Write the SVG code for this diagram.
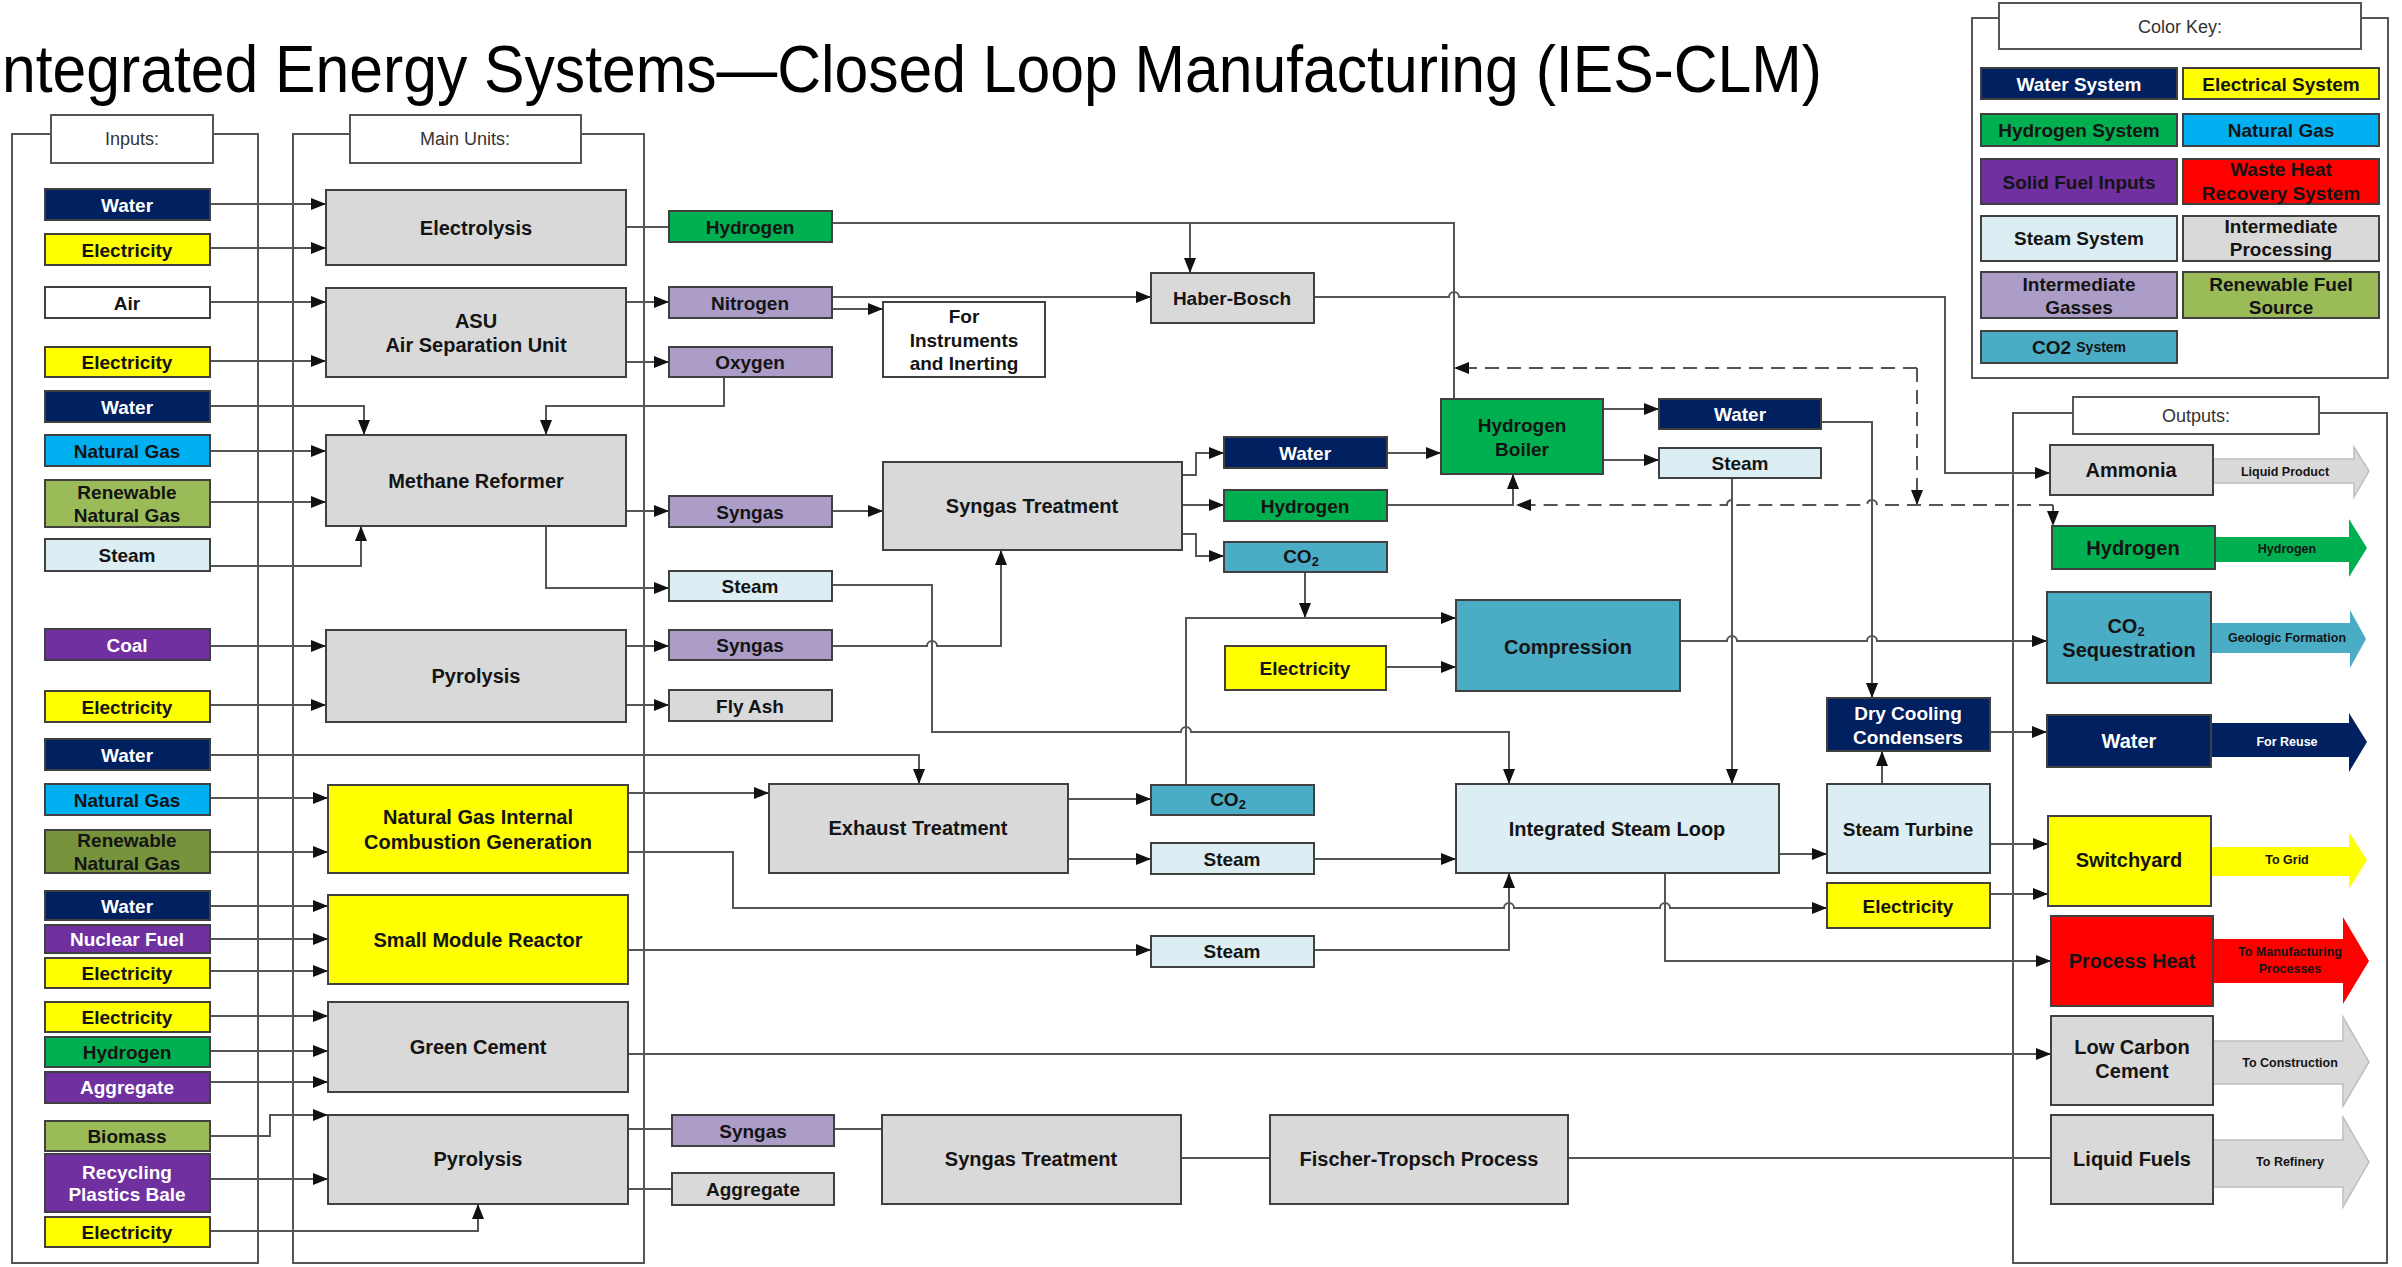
<svg xmlns="http://www.w3.org/2000/svg" width="2402" height="1267" viewBox="0 0 2402 1267">
<style>
.bx{stroke:#404040;stroke-width:2}
.t{font-family:"Liberation Sans",Arial,sans-serif;font-weight:bold;font-size:19px;text-anchor:middle;dominant-baseline:central;fill:#141414}
.tm{font-size:20px}
.to{font-size:20px}
.ts{font-size:12.5px}
.w{fill:#fff}
.hd{font-family:"Liberation Sans",Arial,sans-serif;font-size:18px;text-anchor:middle;dominant-baseline:central;fill:#333}
.ln{fill:none;stroke:#555;stroke-width:2}
.ds{stroke-dasharray:14 8}
.pn{fill:none;stroke:#555;stroke-width:2}
.hb{fill:#fff;stroke:#555;stroke-width:2}
.water{fill:#002060}.elec{fill:#FFFF00}.h2{fill:#00B050}.ng{fill:#00B0F0}.solid{fill:#7030A0}.heat{fill:#FF0000}
.steam{fill:#DCEEF3}.proc{fill:#D9D9D9}.gas{fill:#AC9CC8}.ren{fill:#9BBB59}.ren2{fill:#77933C}.co2{fill:#4BACC6}.white{fill:#fff}
.ga{fill:#D9D9D9;stroke:#BFBFBF;stroke-width:1.5}
</style>
<defs>
<marker id="ah" markerWidth="15" markerHeight="12" refX="15" refY="6" orient="auto" markerUnits="userSpaceOnUse"><path d="M0,0 L15,6 L0,12 z" fill="#111"/></marker>
</defs>
<rect width="2402" height="1267" fill="#fff"/>
<text x="2" y="92" font-family="Liberation Sans, Arial, sans-serif" font-size="66" fill="#000" textLength="1820" lengthAdjust="spacingAndGlyphs">ntegrated Energy Systems—Closed Loop Manufacturing (IES-CLM)</text>

<g id="panels">
<rect class="pn" x="12" y="134" width="246" height="1129"/>
<rect class="hb" x="51" y="115" width="162" height="48"/>
<text class="hd" x="132" y="139">Inputs:</text>
<rect class="pn" x="293" y="134" width="351" height="1129"/>
<rect class="hb" x="350" y="115" width="231" height="48"/>
<text class="hd" x="465" y="139">Main Units:</text>
<rect class="pn" x="2013" y="413" width="374" height="850"/>
<rect class="hb" x="2073" y="397" width="246" height="37"/>
<text class="hd" x="2196" y="416">Outputs:</text>
<rect class="pn" x="1972" y="18" width="416" height="360"/>
<rect class="hb" x="1999" y="3" width="362" height="46"/>
<text class="hd" x="2180" y="27">Color Key:</text>
</g>

<g id="connectors">
<path class="ln" marker-end="url(#ah)" d="M210 204 H326"/>
<path class="ln" marker-end="url(#ah)" d="M210 248 H326"/>
<path class="ln" marker-end="url(#ah)" d="M210 302 H326"/>
<path class="ln" marker-end="url(#ah)" d="M210 361 H326"/>
<path class="ln" marker-end="url(#ah)" d="M210 406 H364 V435"/>
<path class="ln" marker-end="url(#ah)" d="M210 451 H326"/>
<path class="ln" marker-end="url(#ah)" d="M210 502 H326"/>
<path class="ln" marker-end="url(#ah)" d="M210 566 H361 V526"/>
<path class="ln" marker-end="url(#ah)" d="M210 646 H326"/>
<path class="ln" marker-end="url(#ah)" d="M210 705 H326"/>
<path class="ln" marker-end="url(#ah)" d="M210 755 H919 V784"/>
<path class="ln" marker-end="url(#ah)" d="M210 798 H328"/>
<path class="ln" marker-end="url(#ah)" d="M210 852 H328"/>
<path class="ln" marker-end="url(#ah)" d="M210 906 H328"/>
<path class="ln" marker-end="url(#ah)" d="M210 939 H328"/>
<path class="ln" marker-end="url(#ah)" d="M210 971 H328"/>
<path class="ln" marker-end="url(#ah)" d="M210 1016 H328"/>
<path class="ln" marker-end="url(#ah)" d="M210 1051 H328"/>
<path class="ln" marker-end="url(#ah)" d="M210 1082 H328"/>
<path class="ln" marker-end="url(#ah)" d="M210 1136 H270 V1115 H328"/>
<path class="ln" marker-end="url(#ah)" d="M210 1179 H328"/>
<path class="ln" marker-end="url(#ah)" d="M210 1231 H478 V1204"/>

<path class="ln" d="M626 227 H669"/>
<path class="ln" marker-end="url(#ah)" d="M626 302 H669"/>
<path class="ln" marker-end="url(#ah)" d="M626 362 H669"/>
<path class="ln" marker-end="url(#ah)" d="M724 377 V406 H546 V435"/>
<path class="ln" marker-end="url(#ah)" d="M626 511 H669"/>
<path class="ln" marker-end="url(#ah)" d="M546 526 V588 H669"/>
<path class="ln" marker-end="url(#ah)" d="M626 646 H669"/>
<path class="ln" marker-end="url(#ah)" d="M626 705 H669"/>
<path class="ln" marker-end="url(#ah)" d="M628 793 H769"/>
<path class="ln" marker-end="url(#ah)" d="M628 852 H733 V908 H1504 a5 5 0 0 1 10 0 H1660 a5 5 0 0 1 10 0 H1827"/>
<path class="ln" marker-end="url(#ah)" d="M628 950 H1151"/>
<path class="ln" marker-end="url(#ah)" d="M628 1054 H2051"/>
<path class="ln" d="M628 1129 H672"/>
<path class="ln" d="M628 1189 H672"/>
<path class="ln" d="M834 1129 H882"/>
<path class="ln" d="M1181 1158 H1270"/>
<path class="ln" d="M1568 1158 H2051"/>

<path class="ln" d="M832 223 H1454 V399"/>
<path class="ln" marker-end="url(#ah)" d="M1190 223 V273"/>
<path class="ln" marker-end="url(#ah)" d="M832 297 H1151"/>
<path class="ln" marker-end="url(#ah)" d="M832 309 H883"/>
<path class="ln" marker-end="url(#ah)" d="M1314 297 H1449 a5 5 0 0 1 10 0 H1945 V473 H2050"/>
<path class="ln" marker-end="url(#ah)" d="M832 511 H883"/>
<path class="ln" marker-end="url(#ah)" d="M832 585 H932 V732 H1181 a5 5 0 0 1 10 0 H1509 V784"/>
<path class="ln" marker-end="url(#ah)" d="M832 646 H927 a5 5 0 0 1 10 0 H1001 V550"/>
<path class="ln" marker-end="url(#ah)" d="M1182 475 H1196 V453 H1224"/>
<path class="ln" d="M1182 505 H1224"/>
<path class="ln" marker-end="url(#ah)" d="M1196 505 H1224"/>
<path class="ln" marker-end="url(#ah)" d="M1182 534 H1196 V556 H1224"/>
<path class="ln" marker-end="url(#ah)" d="M1387 453 H1441"/>
<path class="ln" marker-end="url(#ah)" d="M1387 505 H1513 V474"/>
<path class="ln" marker-end="url(#ah)" d="M1305 572 V618"/>
<path class="ln" marker-end="url(#ah)" d="M1186 785 V618 H1456"/>
<path class="ln" marker-end="url(#ah)" d="M1386 667 H1456"/>
<path class="ln" marker-end="url(#ah)" d="M1603 409 H1659"/>
<path class="ln" marker-end="url(#ah)" d="M1603 460 H1659"/>
<path class="ln" marker-end="url(#ah)" d="M1821 422 H1872 V698"/>
<path class="ln" marker-end="url(#ah)" d="M1732 478 V784"/>
<path class="ln" marker-end="url(#ah)" d="M1680 641 H1727 a5 5 0 0 1 10 0 H1867 a5 5 0 0 1 10 0 H2047"/>
<path class="ln" marker-end="url(#ah)" d="M1068 799 H1151"/>
<path class="ln" marker-end="url(#ah)" d="M1068 859 H1151"/>
<path class="ln" marker-end="url(#ah)" d="M1314 859 H1456"/>
<path class="ln" marker-end="url(#ah)" d="M1314 950 H1509 V873"/>
<path class="ln" marker-end="url(#ah)" d="M1779 854 H1827"/>
<path class="ln" marker-end="url(#ah)" d="M1882 784 V751"/>
<path class="ln" marker-end="url(#ah)" d="M1990 732 H2047"/>
<path class="ln" marker-end="url(#ah)" d="M1990 844 H2048"/>
<path class="ln" marker-end="url(#ah)" d="M1990 894 H2048"/>
<path class="ln" marker-end="url(#ah)" d="M1665 873 V961 H2051"/>

<path class="ln ds" marker-end="url(#ah)" d="M1917 368 H1454"/>
<path class="ln ds" marker-end="url(#ah)" d="M1917 368 V505"/>
<path class="ln ds" marker-end="url(#ah)" d="M2053 505 H1877 a5 5 0 0 0 -10 0 H1737 a5 5 0 0 0 -10 0 H1516"/>
<path class="ln ds" marker-end="url(#ah)" d="M2053 505 V526"/>
</g>

<g id="in-water-1"><rect class="bx water" x="45" y="189" width="165" height="31"/><text class="t w" x="127" y="205">Water</text></g>
<g id="in-elec-1"><rect class="bx elec" x="45" y="234" width="165" height="31"/><text class="t" x="127" y="250">Electricity</text></g>
<g id="in-air"><rect class="bx white" x="45" y="287" width="165" height="31"/><text class="t" x="127" y="303">Air</text></g>
<g id="in-elec-2"><rect class="bx elec" x="45" y="347" width="165" height="30"/><text class="t" x="127" y="362">Electricity</text></g>
<g id="in-water-2"><rect class="bx water" x="45" y="391" width="165" height="31"/><text class="t w" x="127" y="407">Water</text></g>
<g id="in-ng-1"><rect class="bx ng" x="45" y="435" width="165" height="31"/><text class="t" x="127" y="451">Natural Gas</text></g>
<g id="in-rng-1"><rect class="bx ren" x="45" y="480" width="165" height="47"/><text class="t" x="127" y="492">Renewable</text><text class="t" x="127" y="515">Natural Gas</text></g>
<g id="in-steam"><rect class="bx steam" x="45" y="539" width="165" height="32"/><text class="t" x="127" y="555">Steam</text></g>
<g id="in-coal"><rect class="bx solid" x="45" y="629" width="165" height="31"/><text class="t w" x="127" y="645">Coal</text></g>
<g id="in-elec-3"><rect class="bx elec" x="45" y="691" width="165" height="31"/><text class="t" x="127" y="707">Electricity</text></g>
<g id="in-water-3"><rect class="bx water" x="45" y="739" width="165" height="31"/><text class="t w" x="127" y="755">Water</text></g>
<g id="in-ng-2"><rect class="bx ng" x="45" y="784" width="165" height="31"/><text class="t" x="127" y="800">Natural Gas</text></g>
<g id="in-rng-2"><rect class="bx ren2" x="45" y="830" width="165" height="43"/><text class="t" x="127" y="840">Renewable</text><text class="t" x="127" y="863">Natural Gas</text></g>
<g id="in-water-4"><rect class="bx water" x="45" y="891" width="165" height="29"/><text class="t w" x="127" y="906">Water</text></g>
<g id="in-nuclear"><rect class="bx solid" x="45" y="925" width="165" height="28"/><text class="t w" x="127" y="939">Nuclear Fuel</text></g>
<g id="in-elec-4"><rect class="bx elec" x="45" y="958" width="165" height="30"/><text class="t" x="127" y="973">Electricity</text></g>
<g id="in-elec-5"><rect class="bx elec" x="45" y="1002" width="165" height="30"/><text class="t" x="127" y="1017">Electricity</text></g>
<g id="in-h2"><rect class="bx h2" x="45" y="1037" width="165" height="30"/><text class="t" x="127" y="1052">Hydrogen</text></g>
<g id="in-aggregate"><rect class="bx solid" x="45" y="1072" width="165" height="31"/><text class="t w" x="127" y="1087">Aggregate</text></g>
<g id="in-biomass"><rect class="bx ren" x="45" y="1121" width="165" height="30"/><text class="t" x="127" y="1136">Biomass</text></g>
<g id="in-plastics"><rect class="bx solid" x="45" y="1154" width="165" height="58"/><text class="t w" x="127" y="1172">Recycling</text><text class="t w" x="127" y="1194">Plastics Bale</text></g>
<g id="in-elec-6"><rect class="bx elec" x="45" y="1217" width="165" height="30"/><text class="t" x="127" y="1232">Electricity</text></g>

<g id="electrolysis"><rect class="bx proc" x="326" y="190" width="300" height="75"/><text class="t tm" x="476" y="228">Electrolysis</text></g>
<g id="asu"><rect class="bx proc" x="326" y="288" width="300" height="89"/><text class="t tm" x="476" y="321">ASU</text><text class="t tm" x="476" y="345">Air Separation Unit</text></g>
<g id="methane-reformer"><rect class="bx proc" x="326" y="435" width="300" height="91"/><text class="t tm" x="476" y="481">Methane Reformer</text></g>
<g id="pyrolysis-1"><rect class="bx proc" x="326" y="630" width="300" height="92"/><text class="t tm" x="476" y="676">Pyrolysis</text></g>
<g id="ngicg"><rect class="bx elec" x="328" y="785" width="300" height="88"/><text class="t tm" x="478" y="817">Natural Gas Internal</text><text class="t tm" x="478" y="842">Combustion Generation</text></g>
<g id="smr"><rect class="bx elec" x="328" y="895" width="300" height="89"/><text class="t tm" x="478" y="940">Small Module Reactor</text></g>
<g id="green-cement"><rect class="bx proc" x="328" y="1002" width="300" height="90"/><text class="t tm" x="478" y="1047">Green Cement</text></g>
<g id="pyrolysis-2"><rect class="bx proc" x="328" y="1115" width="300" height="89"/><text class="t tm" x="478" y="1159">Pyrolysis</text></g>

<g id="mid-h2"><rect class="bx h2" x="669" y="211" width="163" height="31"/><text class="t" x="750" y="227">Hydrogen</text></g>
<g id="mid-n2"><rect class="bx gas" x="669" y="287" width="163" height="31"/><text class="t" x="750" y="303">Nitrogen</text></g>
<g id="mid-o2"><rect class="bx gas" x="669" y="347" width="163" height="30"/><text class="t" x="750" y="362">Oxygen</text></g>
<g id="mid-syngas-1"><rect class="bx gas" x="669" y="496" width="163" height="31"/><text class="t" x="750" y="512">Syngas</text></g>
<g id="mid-steam"><rect class="bx steam" x="669" y="571" width="163" height="30"/><text class="t" x="750" y="586">Steam</text></g>
<g id="mid-syngas-2"><rect class="bx gas" x="669" y="630" width="163" height="30"/><text class="t" x="750" y="645">Syngas</text></g>
<g id="mid-flyash"><rect class="bx proc" x="669" y="690" width="163" height="31"/><text class="t" x="750" y="706">Fly Ash</text></g>
<g id="mid-syngas-3"><rect class="bx gas" x="672" y="1115" width="162" height="31"/><text class="t" x="753" y="1131">Syngas</text></g>
<g id="mid-aggregate"><rect class="bx proc" x="672" y="1173" width="162" height="32"/><text class="t" x="753" y="1189">Aggregate</text></g>

<g id="instruments"><rect class="bx white" x="883" y="302" width="162" height="75"/><text class="t" x="964" y="316">For</text><text class="t" x="964" y="340">Instruments</text><text class="t" x="964" y="363">and Inerting</text></g>
<g id="haber-bosch"><rect class="bx proc" x="1151" y="273" width="163" height="50"/><text class="t" x="1232" y="298">Haber-Bosch</text></g>
<g id="syngas-treatment-1"><rect class="bx proc" x="883" y="462" width="299" height="88"/><text class="t tm" x="1032" y="506">Syngas Treatment</text></g>
<g id="exhaust-treatment"><rect class="bx proc" x="769" y="784" width="299" height="89"/><text class="t tm" x="918" y="828">Exhaust Treatment</text></g>
<g id="syngas-treatment-2"><rect class="bx proc" x="882" y="1115" width="299" height="89"/><text class="t tm" x="1031" y="1159">Syngas Treatment</text></g>
<g id="fischer-tropsch"><rect class="bx proc" x="1270" y="1115" width="298" height="89"/><text class="t tm" x="1419" y="1159">Fischer-Tropsch Process</text></g>

<g id="st-water"><rect class="bx water" x="1224" y="437" width="163" height="31"/><text class="t w" x="1305" y="453">Water</text></g>
<g id="st-h2"><rect class="bx h2" x="1224" y="490" width="163" height="31"/><text class="t" x="1305" y="506">Hydrogen</text></g>
<g id="st-co2"><rect class="bx co2" x="1224" y="542" width="163" height="30"/><text class="t" x="1301" y="556">CO<tspan font-size="13" dy="5">2</tspan></text></g>
<g id="hydrogen-boiler"><rect class="bx h2" x="1441" y="399" width="162" height="75"/><text class="t" x="1522" y="425">Hydrogen</text><text class="t" x="1522" y="449">Boiler</text></g>
<g id="hb-water"><rect class="bx water" x="1659" y="399" width="162" height="30"/><text class="t w" x="1740" y="414">Water</text></g>
<g id="hb-steam"><rect class="bx steam" x="1659" y="448" width="162" height="30"/><text class="t" x="1740" y="463">Steam</text></g>
<g id="compression"><rect class="bx co2" x="1456" y="600" width="224" height="91"/><text class="t tm" x="1568" y="647">Compression</text></g>
<g id="comp-elec"><rect class="bx elec" x="1225" y="646" width="161" height="44"/><text class="t" x="1305" y="668">Electricity</text></g>
<g id="et-co2"><rect class="bx co2" x="1151" y="785" width="163" height="30"/><text class="t" x="1228" y="799">CO<tspan font-size="13" dy="5">2</tspan></text></g>
<g id="et-steam"><rect class="bx steam" x="1151" y="843" width="163" height="31"/><text class="t" x="1232" y="859">Steam</text></g>
<g id="smr-steam"><rect class="bx steam" x="1151" y="936" width="163" height="31"/><text class="t" x="1232" y="951">Steam</text></g>
<g id="steam-loop"><rect class="bx steam" x="1456" y="784" width="323" height="89"/><text class="t tm" x="1617" y="829">Integrated Steam Loop</text></g>
<g id="steam-turbine"><rect class="bx steam" x="1827" y="784" width="163" height="89"/><text class="t" x="1908" y="829">Steam Turbine</text></g>
<g id="dry-cooling"><rect class="bx water" x="1827" y="698" width="163" height="53"/><text class="t w" x="1908" y="713">Dry Cooling</text><text class="t w" x="1908" y="737">Condensers</text></g>
<g id="turbine-elec"><rect class="bx elec" x="1827" y="883" width="163" height="45"/><text class="t" x="1908" y="906">Electricity</text></g>

<g id="out-ammonia"><polygon class="ga" points="2213,459 2354,459 2354,447 2369,471 2354,497 2354,483 2213,483"/><rect class="bx proc" x="2050" y="445" width="163" height="50"/><text class="t to" x="2131" y="470">Ammonia</text><text class="t ts" x="2285" y="472" fill="#333">Liquid Product</text></g>
<g id="out-h2"><polygon class="h2" points="2215,537 2349,537 2349,519 2367,548 2349,577 2349,562 2215,562"/><rect class="bx h2" x="2052" y="526" width="163" height="43"/><text class="t to" x="2133" y="548">Hydrogen</text><text class="t ts" x="2287" y="549">Hydrogen</text></g>
<g id="out-co2"><polygon class="co2" points="2211,623 2350,623 2350,610 2366,639 2350,668 2350,653 2211,653"/><rect class="bx co2" x="2047" y="592" width="164" height="91"/><text class="t to" x="2126" y="626">CO<tspan font-size="13" dy="5">2</tspan></text><text class="t to" x="2129" y="650">Sequestration</text><text class="t ts" x="2287" y="638">Geologic Formation</text></g>
<g id="out-water"><polygon class="water" points="2211,723 2349,723 2349,713 2367,742 2349,772 2349,757 2211,757"/><rect class="bx water" x="2047" y="715" width="164" height="52"/><text class="t to w" x="2129" y="741">Water</text><text class="t ts w" x="2287" y="742">For Reuse</text></g>
<g id="out-switchyard"><polygon class="elec" points="2211,847 2349,847 2349,832 2367,860 2349,889 2349,876 2211,876"/><rect class="bx elec" x="2048" y="816" width="163" height="90"/><text class="t to" x="2129" y="860">Switchyard</text><text class="t ts" x="2287" y="860">To Grid</text></g>
<g id="out-heat"><polygon class="heat" points="2213,939 2343,939 2343,917 2369,961 2343,1004 2343,983 2213,983"/><rect class="bx heat" x="2051" y="916" width="162" height="90"/><text class="t to" x="2132" y="961">Process Heat</text><text class="t ts" x="2290" y="952">To Manufacturing</text><text class="t ts" x="2290" y="969">Processes</text></g>
<g id="out-cement"><polygon class="ga" points="2213,1041 2343,1041 2343,1017 2369,1062 2343,1106 2343,1084 2213,1084"/><rect class="bx proc" x="2051" y="1016" width="162" height="89"/><text class="t to" x="2132" y="1047">Low Carbon</text><text class="t to" x="2132" y="1071">Cement</text><text class="t ts" x="2290" y="1063" fill="#333">To Construction</text></g>
<g id="out-fuels"><polygon class="ga" points="2213,1140 2343,1140 2343,1117 2369,1162 2343,1207 2343,1187 2213,1187"/><rect class="bx proc" x="2051" y="1115" width="162" height="89"/><text class="t to" x="2132" y="1159">Liquid Fuels</text><text class="t ts" x="2290" y="1162" fill="#333">To Refinery</text></g>

<g id="key-water"><rect class="bx water" x="1981" y="68" width="196" height="31"/><text class="t w" x="2079" y="84">Water System</text></g>
<g id="key-elec"><rect class="bx elec" x="2183" y="68" width="196" height="31"/><text class="t" x="2281" y="84">Electrical System</text></g>
<g id="key-h2"><rect class="bx h2" x="1981" y="114" width="196" height="32"/><text class="t" x="2079" y="130">Hydrogen System</text></g>
<g id="key-ng"><rect class="bx ng" x="2183" y="114" width="196" height="32"/><text class="t" x="2281" y="130">Natural Gas</text></g>
<g id="key-solid"><rect class="bx solid" x="1981" y="159" width="196" height="45"/><text class="t" x="2079" y="182">Solid Fuel Inputs</text></g>
<g id="key-heat"><rect class="bx heat" x="2183" y="159" width="196" height="45"/><text class="t" x="2281" y="169">Waste Heat</text><text class="t" x="2281" y="193">Recovery System</text></g>
<g id="key-steam"><rect class="bx steam" x="1981" y="216" width="196" height="45"/><text class="t" x="2079" y="238">Steam System</text></g>
<g id="key-proc"><rect class="bx proc" x="2183" y="216" width="196" height="45"/><text class="t" x="2281" y="226">Intermediate</text><text class="t" x="2281" y="249">Processing</text></g>
<g id="key-gas"><rect class="bx gas" x="1981" y="272" width="196" height="46"/><text class="t" x="2079" y="284">Intermediate</text><text class="t" x="2079" y="307">Gasses</text></g>
<g id="key-ren"><rect class="bx ren" x="2183" y="272" width="196" height="46"/><text class="t" x="2281" y="284">Renewable Fuel</text><text class="t" x="2281" y="307">Source</text></g>
<g id="key-co2"><rect class="bx co2" x="1981" y="331" width="196" height="32"/><text class="t" x="2079" y="347">CO2 <tspan font-size="14">System</tspan></text></g>
</svg>
